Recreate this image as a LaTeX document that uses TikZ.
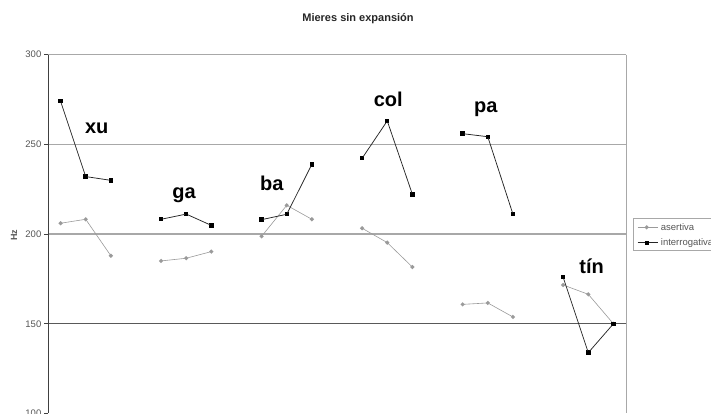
\documentclass[tikz,border=0pt]{standalone}
\usepackage{fontspec}
\setmainfont{Liberation Sans}
\usetikzlibrary{shapes.geometric}
\definecolor{ag}{HTML}{9A9A9A}
\definecolor{gl}{HTML}{A8A8A8}
\definecolor{tg}{HTML}{555555}
\begin{document}
\begin{tikzpicture}[x=1pt,y=-1pt,
  isq/.style={rectangle,fill=black,minimum size=4.4pt,inner sep=0pt},
  adm/.style={diamond,fill=ag,minimum size=4.6pt,inner sep=0pt},
  iline/.style={black!85,line width=0.75pt,shorten <=-1pt,shorten >=-1pt},
  aline/.style={ag,line width=0.6pt,shorten <=-1pt,shorten >=-1pt},
  syl/.style={font=\bfseries\fontsize{20}{20}\selectfont,anchor=base},
  ticklab/.style={font=\fontsize{9.5}{9.5}\selectfont,text=tg,anchor=east,inner sep=0pt},
  gridl/.style={gl,line width=1.1pt},
  leglab/.style={font=\fontsize{9.5}{9.5}\selectfont,text=tg,anchor=west,inner sep=0pt}]
\useasboundingbox (0,0) rectangle (711,413);
% grid and frame
\draw[gridl] (48,54.5) -- (626,54.5);
\draw[gridl] (48,144.25) -- (626,144.25);
\draw[gridl] (48,234) -- (626,234);
\draw[black!65,line width=1.1pt] (48,323.75) -- (626,323.75);
\draw[gl,line width=0.9pt] (626,54.5) -- (626,413);
\draw[black!75,line width=0.9pt] (48,54.5) -- (48,413);
\foreach \v/\lab in {300/300,250/250,200/200,150/150,100/100}{
  \draw[black!75,line width=0.8pt] (44,{54.5+(300-\v)*1.795}) -- (48,{54.5+(300-\v)*1.795});
  \node[ticklab] (t\lab) at (41.5,{54.5+(300-\v)*1.795}) {\lab};
}
\node[font=\bfseries\fontsize{9}{9}\selectfont,text=tg,rotate=90] (hz) at (14,235) {Hz};
\node[font=\bfseries\fontsize{11}{11}\selectfont,text=black!85] (title) at (358,19) {Mieres sin expansión};
% asertiva
\foreach \i/\v [count=\k] in {0/206,1/208.2,2/187.9,4/185,5/186.5,6/190.2,8/198.7,9/216,10/208.2,12/203.2,13/195.2,14/181.6,16/160.8,17/161.6,18/153.8,20/171.6,21/166.4,22/150}
  \node[adm] (a\k) at ({48+25.13*(\i+0.5)},{54.5+(300-\v)*1.795}) {};
\foreach \p/\q in {1/2,2/3,4/5,5/6,7/8,8/9,10/11,11/12,13/14,14/15,16/17,17/18}
  \draw[aline] (a\p) -- (a\q);
% interrogativa
\foreach \i/\v [count=\k] in {0/274,1/232,2/229.9,4/208.2,5/211.1,6/204.8,8/208,9/211,10/238.8,12/242.2,13/263,14/222.1,16/255.9,17/254.2,18/211.1,20/175.9,21/133.9,22/150}
  \node[isq] (q\k) at ({48+25.13*(\i+0.5)},{54.5+(300-\v)*1.795}) {};
\foreach \p/\q in {1/2,2/3,4/5,5/6,7/8,8/9,10/11,11/12,13/14,14/15,16/17,17/18}
  \draw[iline] (q\p) -- (q\q);
% syllable labels
\node[syl] (sxu) at (96.7,133.3) {xu};
\node[syl] (sga) at (184,198) {ga};
\node[syl] (sba) at (271.7,190.7) {ba};
\node[syl] (scol) at (388.3,106.7) {col};
\node[syl] (spa) at (485.8,112.7) {pa};
\node[syl] (stin) at (591.7,273.3) {tín};
% legend
\draw[gl,line width=0.9pt] (720,218.3) -- (633.3,218.3) -- (633.3,250) -- (720,250);
\coordinate (la1) at (637.7,227.3);
\coordinate (la2) at (658.3,227.3);
\node[adm] (lam) at (646.7,227.3) {};
\draw[aline,shorten <=0pt,shorten >=0pt] (la1) -- (la2);
\node[leglab] (lat) at (660.7,227.3) {asertiva};
\coordinate (li1) at (637.7,242.7);
\coordinate (li2) at (658.3,242.7);
\draw[iline,shorten <=0pt,shorten >=0pt] (li1) -- (li2);
\node[isq] (lim) at (646.7,242.7) {};
\node[leglab] (lit) at (660.7,242.7) {interrogativa};
\end{tikzpicture}
\end{document}
